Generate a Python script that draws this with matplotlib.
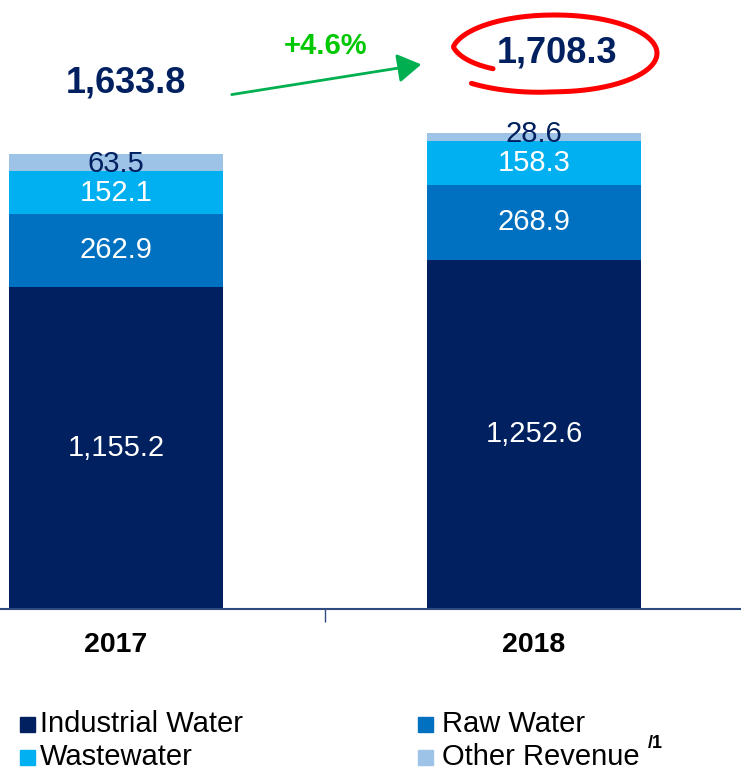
import matplotlib
matplotlib.use("Agg")
import matplotlib.pyplot as plt
import numpy as np

years = ["2017", "2018"]
industrial = [1155.2, 1252.6]
raw_water = [262.9, 268.9]
wastewater = [152.1, 158.3]
other = [63.5, 28.6]
totals = ["1,633.8", "1,708.3"]
growth = "+4.6%"
series_names = ["Industrial Water", "Raw Water", "Wastewater", "Other Revenue"]

navy = "#002060"
colors = ["#002060", "#0070C0", "#00B0F0", "#9DC3E6"]

plt.rcParams["font.family"] = ["Liberation Sans", "DejaVu Sans"]

W, H = 741, 771
fig = plt.figure(figsize=(W / 100, H / 100), dpi=100)
ax = fig.add_axes([0, 162 / H, 1, 609 / H])

def px(x, y):
    # pixel position (from top-left) to figure fraction
    return (x / W, 1 - y / H)

x = np.arange(len(years))
width = 0.512
series = [industrial, raw_water, wastewater, other]
bottom = np.zeros(len(years))
for i, vals in enumerate(series):
    ax.bar(x, vals, width, bottom=bottom, color=colors[i], edgecolor="none")
    for j, v in enumerate(vals):
        if i < 3:
            ax.text(x[j], bottom[j] + v / 2, f"{v:,.1f}", ha="center", va="center",
                    color="white", fontsize=21)
        else:
            ax.text(x[j], bottom[j] - 3, f"{v:,.1f}", ha="center", va="baseline",
                    color=navy, fontsize=21)
    bottom += np.array(vals)

ax.set_xlim(-0.2775, 1.495)
ax.set_ylim(0, 2185)
for s in ["top", "right", "left"]:
    ax.spines[s].set_visible(False)
ax.spines["bottom"].set_color("#2F4A7F")
ax.spines["bottom"].set_linewidth(1.5)
ax.set_yticks([])
ax.set_xticks([0.5])
ax.set_xticklabels([""])
ax.tick_params(axis="x", length=9, width=1, color="#2F4A7F", direction="out")
for j, yr in enumerate(years):
    ax.text(x[j], -128, yr, ha="center", va="center", fontsize=20.5,
            fontweight="bold", color="black")

# totals
fig.text(*px(126, 83), totals[0], ha="center", va="center", fontsize=26,
         fontweight="bold", color=navy)
fig.text(*px(557, 53), totals[1], ha="center", va="center", fontsize=26,
         fontweight="bold", color=navy)

# growth arrow
fig.text(*px(326, 46), growth, ha="center", va="center", fontsize=21,
         fontweight="bold", color="#00C800")
fig.patches.append(matplotlib.patches.FancyArrowPatch(
    px(229, 95), px(424, 64), transform=fig.transFigure,
    arrowstyle="-|>,head_length=9,head_width=5.5", mutation_scale=1.6,
    color="#00B050", linewidth=2))

# hand-drawn red ellipse
t = np.radians(np.linspace(214, -136, 200))
r = np.interp(np.degrees(t), [-136, -90, 90, 171, 214], [1.15, 1.02, 1.0, 1.02, 0.74])
ex = 555 + 101 * r * np.cos(t)
ey = 53 - 38 * r * np.sin(t)
fx, fy = px(ex, ey)
fig.add_artist(matplotlib.lines.Line2D(fx, fy, transform=fig.transFigure,
                                       color="#FF0000", linewidth=3.6,
                                       solid_capstyle="round"))

# legend
legend_pos = [(20, 724, 40), (418, 724, 442), (20, 757, 40), (418, 757, 442)]
for (mx, my, tx), k in zip(legend_pos, range(4)):
    fig.patches.append(matplotlib.patches.Rectangle(
        px(mx, my + 7.5), 15 / W, 15 / H, transform=fig.transFigure,
        color=colors[k]))
    fig.text(*px(tx, my), series_names[k], ha="left", va="center",
             fontsize=21, color="black")
fig.text(*px(648, 743), "/1", ha="left", va="center", fontsize=13,
         fontweight="bold", color="black")

fig.savefig("out.png", dpi=100)
